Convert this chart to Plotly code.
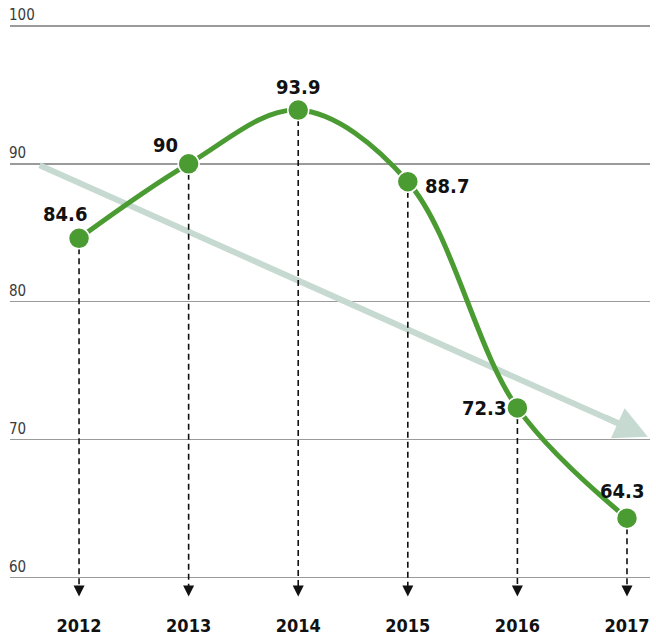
import plotly.graph_objects as go

years = [2012, 2013, 2014, 2015, 2016, 2017]
values = [84.6, 90, 93.9, 88.7, 72.3, 64.3]
value_labels = ["84.6", "90", "93.9", "88.7", "72.3", "64.3"]
y_ticks = [60, 70, 80, 90, 100]
trend_start = (2011.64, 89.9)
trend_end = (2017.19, 70.2)

GREEN = "#4b9b33"
TREND = "#c7dad2"
BOLD_FONT = "DejaVu Sans Condensed, Liberation Sans Narrow, Arial Narrow, sans-serif"
THIN_FONT = "DejaVu Sans Condensed, Liberation Sans Narrow, sans-serif"

fig = go.Figure()

# trend line (below data)
fig.add_trace(go.Scatter(x=[trend_start[0], trend_end[0] - 0.15], y=[trend_start[1], trend_end[1] + 0.55],
                         mode="lines", line=dict(color=TREND, width=6), hoverinfo="skip", showlegend=False))

# dashed drop lines
for x, v in zip(years, values):
    fig.add_trace(go.Scatter(x=[x, x], y=[v, 58.85], mode="lines",
                             line=dict(color="#111", width=1.6, dash="6px,4px"),
                             hoverinfo="skip", showlegend=False))
fig.add_trace(go.Scatter(x=years, y=[58.62] * len(years), mode="markers",
                         marker=dict(symbol="arrow-down", size=11, color="#111"),
                         hoverinfo="skip", showlegend=False))

# main line
fig.add_trace(go.Scatter(x=years, y=values, mode="lines+markers",
                         line=dict(color=GREEN, width=5, shape="spline", smoothing=1.0),
                         marker=dict(size=21, color=GREEN, line=dict(color="white", width=1.5)),
                         showlegend=False))

# trend arrowhead
fig.add_annotation(x=trend_end[0], y=trend_end[1], ax=trend_end[0] - 0.4, ay=trend_end[1] + 1.45,
                   axref="x", ayref="y", xref="x", yref="y", text="", showarrow=True,
                   arrowhead=2, arrowsize=1.1, arrowwidth=6, arrowcolor=TREND)

# value labels
offsets = [(-14, 24), (-23, 19), (0, 23), (39, -4), (-33, 0), (-5, 27)]
for x, v, t, (dx, dy) in zip(years, values, value_labels, offsets):
    fig.add_annotation(x=x, y=v, text="<b>" + t + "</b>", showarrow=False,
                       xshift=dx, yshift=dy, font=dict(family=BOLD_FONT, size=20, color="#111"))

# y tick labels above gridlines
for t in y_ticks:
    fig.add_annotation(xref="paper", x=0, y=t, yref="y", text=str(t), showarrow=False,
                       xanchor="left", yanchor="bottom", yshift=0, xshift=-3,
                       font=dict(family=THIN_FONT, size=15, color="#3a3a3a"))

fig.update_xaxes(range=[2011.37, 2017.21], tickvals=years,
                 ticktext=["<b>%d</b>" % y for y in years],
                 tickfont=dict(family=BOLD_FONT, size=18, color="#111"),
                 showgrid=False, zeroline=False, showline=False, ticks="",
                 ticklabelstandoff=1, automargin=False)
fig.update_yaxes(range=[57.5, 100.5], tickvals=y_ticks, showticklabels=False,
                 showgrid=True, gridcolor="#9a9a9a", gridwidth=1.5, zeroline=False, showline=False,
                 automargin=False)

fig.update_layout(width=656, height=636, margin=dict(l=10, r=6, t=19, b=24, autoexpand=False),
                  plot_bgcolor="white", paper_bgcolor="white", hovermode=False)

# remove the browser's default 8px body margin so the figure fills the window
fig.write_html("out.html", config={"displayModeBar": False, "staticPlot": True},
               post_script="document.body.style.margin='0';document.body.style.overflow='hidden';")
